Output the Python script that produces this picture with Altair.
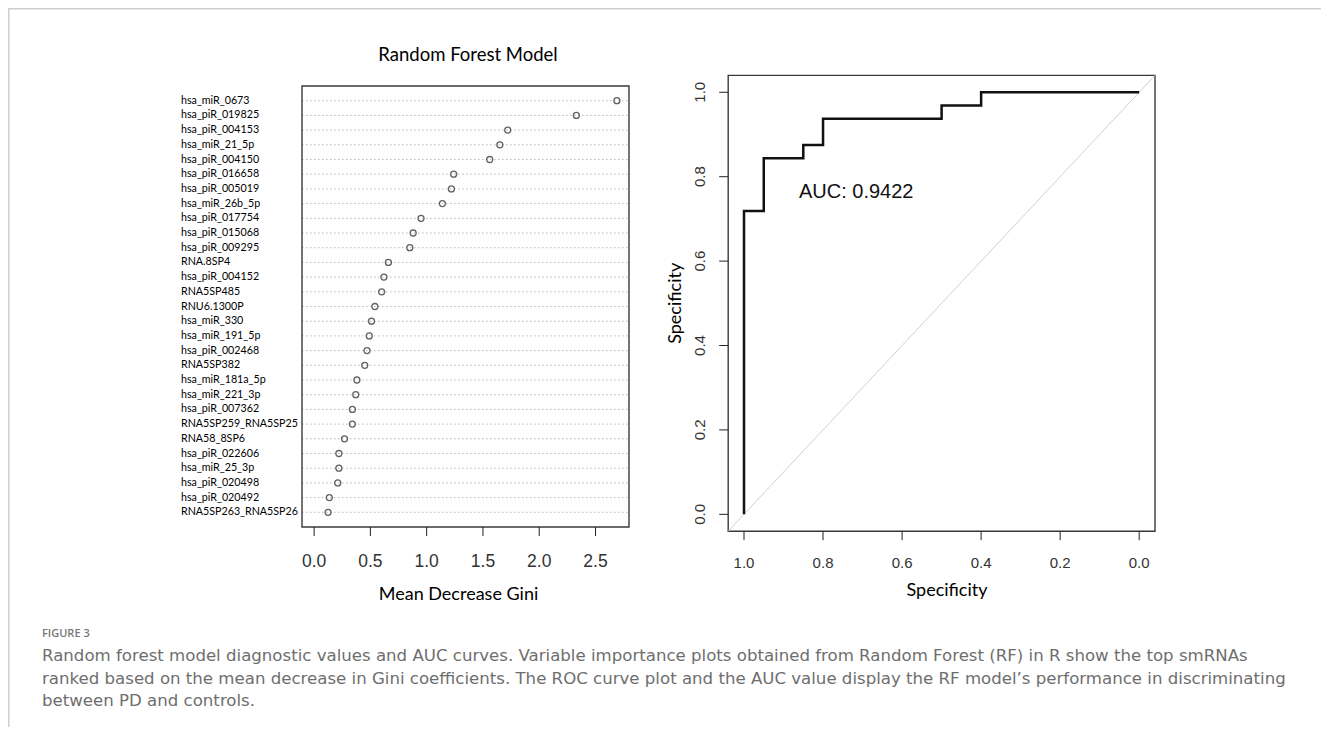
import altair as alt
import pandas as pd

# ---------------- data ----------------
names = [
    "hsa_miR_0673", "hsa_piR_019825", "hsa_piR_004153", "hsa_miR_21_5p",
    "hsa_piR_004150", "hsa_piR_016658", "hsa_piR_005019", "hsa_miR_26b_5p",
    "hsa_piR_017754", "hsa_piR_015068", "hsa_piR_009295", "RNA.8SP4",
    "hsa_piR_004152", "RNA5SP485", "RNU6.1300P", "hsa_miR_330",
    "hsa_miR_191_5p", "hsa_piR_002468", "RNA5SP382", "hsa_miR_181a_5p",
    "hsa_miR_221_3p", "hsa_piR_007362", "RNA5SP259_RNA5SP25", "RNA58_8SP6",
    "hsa_piR_022606", "hsa_miR_25_3p", "hsa_piR_020498", "hsa_piR_020492",
    "RNA5SP263_RNA5SP26",
]
gini = [
    2.69, 2.33, 1.72, 1.65, 1.56, 1.24, 1.22, 1.14, 0.95, 0.88, 0.85, 0.66,
    0.62, 0.60, 0.54, 0.51, 0.49, 0.47, 0.45, 0.38, 0.37, 0.34, 0.34, 0.27,
    0.22, 0.22, 0.21, 0.135, 0.124,
]
gini_ticks = [0.0, 0.5, 1.0, 1.5, 2.0, 2.5]

roc_spec = [1.0, 1.0, 0.95, 0.95, 0.85, 0.85, 0.80, 0.80, 0.50, 0.50, 0.40, 0.40, 0.0]
roc_sens = [0.0, 0.71875, 0.71875, 0.84375, 0.84375, 0.875, 0.875, 0.9375,
            0.9375, 0.96875, 0.96875, 1.0, 1.0]
roc_ticks = [0.0, 0.2, 0.4, 0.6, 0.8, 1.0]
auc_label = "AUC: 0.9422"

title_left = "Random Forest Model"
xlab_left = "Mean Decrease Gini"
xlab_right = "Specificity"
ylab_right = "Specificity"
fig_label = "FIGURE 3"
caption = [
    "Random forest model diagnostic values and AUC curves. Variable importance plots obtained from Random Forest (RF) in R show the top smRNAs",
    "ranked based on the mean decrease in Gini coefficients. The ROC curve plot and the AUC value display the RF model\u2019s performance in discriminating",
    "between PD and controls.",
]

# ---------------- layout ----------------
W, H = 1313, 719
LX_RANGE = [294, 621]
LY_RANGE = [78, 519]
RX_RANGE = [720.2, 1147]
RY_RANGE = [523.2, 67.4]

n = len(names)
gmax = max(gini)
lx_dom = [-0.04 * gmax, 1.04 * gmax]
ly_dom = [0, n + 1]
rx_dom = [1.04, -0.04]
ry_dom = [-0.04, 1.04]
lx_mid = (lx_dom[0] + lx_dom[1]) / 2

TICK_FONT = "Liberation Sans"
TEXT_FONT = "Lato"
CAP_FONT = "DejaVu Sans"

df_imp = pd.DataFrame({"name": names, "gini": gini, "rank": list(range(1, n + 1))})
df_lt = pd.DataFrame({"v": gini_ticks})
df_rt = pd.DataFrame({"v": roc_ticks})
df_roc = pd.DataFrame({"spec": roc_spec, "sens": roc_sens, "i": list(range(len(roc_spec)))})
df_diag = pd.DataFrame({"spec": [rx_dom[0], rx_dom[1]], "sens": [ry_dom[0], ry_dom[1]]})
df_one = pd.DataFrame({"k": [0]})

xs_l = alt.Scale(domain=lx_dom, range=LX_RANGE, nice=False, zero=False)
ys_l = alt.Scale(domain=ly_dom, range=LY_RANGE, nice=False, zero=False)
xs_r = alt.Scale(domain=rx_dom, range=RX_RANGE, nice=False, zero=False)
ys_r = alt.Scale(domain=ry_dom, range=RY_RANGE, nice=False, zero=False)

FRAME = dict(fillOpacity=0, stroke="#3a3a3a", strokeWidth=1.4)

# ---------------- left panel ----------------
base_l = alt.Chart(df_imp)
dots_lines = base_l.mark_rule(color="#b8b8b8", strokeWidth=1, strokeDash=[1.5, 2.5]).encode(
    x=alt.datum(lx_dom[0], scale=xs_l, axis=None),
    x2=alt.datum(lx_dom[1]),
    y=alt.Y("rank:Q", scale=ys_l, axis=None),
)
points = base_l.mark_point(shape="circle", filled=False, color="#222", size=36, strokeWidth=1.3).encode(
    x=alt.X("gini:Q", scale=xs_l, axis=None),
    y=alt.Y("rank:Q", scale=ys_l, axis=None),
)
row_labels = base_l.mark_text(
    align="left", baseline="middle", font=TEXT_FONT, fontSize=10.7, color="black",
    dx=-(LX_RANGE[0] - 173),
).encode(
    x=alt.datum(lx_dom[0], scale=xs_l, axis=None),
    y=alt.Y("rank:Q", scale=ys_l, axis=None),
    text="name:N",
)
frame_l = alt.Chart(df_one).mark_rect(**FRAME).encode(
    x=alt.datum(lx_dom[0], scale=xs_l, axis=None),
    x2=alt.datum(lx_dom[1]),
    y=alt.datum(ly_dom[0], scale=ys_l, axis=None),
    y2=alt.datum(ly_dom[1]),
)
ticks_l = alt.Chart(df_lt).mark_rule(color="#222", strokeWidth=1, y2Offset=9).encode(
    x=alt.X("v:Q", scale=xs_l, axis=None),
    y=alt.datum(ly_dom[1], scale=ys_l, axis=None),
    y2=alt.datum(ly_dom[1]),
)
ticklab_l = alt.Chart(df_lt).mark_text(
    align="center", baseline="alphabetic", font=TICK_FONT, fontSize=17.5, color="#333", dy=39.7
).encode(
    x=alt.X("v:Q", scale=xs_l, axis=None),
    y=alt.datum(ly_dom[1], scale=ys_l, axis=None),
    text=alt.Text("v:Q", format=".1f"),
)
xtitle_l = alt.Chart(df_one).mark_text(
    text=xlab_left, align="center", baseline="alphabetic", font=TEXT_FONT, fontSize=18,
    color="black", xOffset=-7, yOffset=73,
).encode(
    x=alt.datum(lx_mid, scale=xs_l, axis=None),
    y=alt.datum(ly_dom[1], scale=ys_l, axis=None),
)
title_l = alt.Chart(df_one).mark_text(
    text=title_left, align="center", baseline="alphabetic", font=TEXT_FONT, fontSize=18.5,
    color="black", xOffset=2.5, yOffset=-25.3,
).encode(
    x=alt.datum(lx_mid, scale=xs_l, axis=None),
    y=alt.datum(ly_dom[0], scale=ys_l, axis=None),
)
left = alt.layer(dots_lines, points, row_labels, frame_l, ticks_l, ticklab_l, xtitle_l, title_l)

# ---------------- right panel ----------------
frame_r = alt.Chart(df_one).mark_rect(**FRAME).encode(
    x=alt.datum(rx_dom[0], scale=xs_r, axis=None),
    x2=alt.datum(rx_dom[1]),
    y=alt.datum(ry_dom[0], scale=ys_r, axis=None),
    y2=alt.datum(ry_dom[1]),
)
diag = alt.Chart(df_diag).mark_line(color="#d0d0d0", strokeWidth=1).encode(
    x=alt.X("spec:Q", scale=xs_r, axis=None),
    y=alt.Y("sens:Q", scale=ys_r, axis=None),
)
roc = alt.Chart(df_roc).mark_line(color="#111", strokeWidth=2.5, strokeJoin="miter").encode(
    x=alt.X("spec:Q", scale=xs_r, axis=None),
    y=alt.Y("sens:Q", scale=ys_r, axis=None),
    order="i:Q",
)
auc = alt.Chart(df_one).mark_text(
    text=auc_label, align="left", baseline="middle", font=TICK_FONT, fontSize=20, color="#111"
).encode(
    x=alt.datum(0.861, scale=xs_r, axis=None),
    y=alt.datum(0.764, scale=ys_r, axis=None),
)
xticks_r = alt.Chart(df_rt).mark_rule(color="#222", strokeWidth=1, y2Offset=9).encode(
    x=alt.X("v:Q", scale=xs_r, axis=None),
    y=alt.datum(ry_dom[0], scale=ys_r, axis=None),
    y2=alt.datum(ry_dom[0]),
)
xticklab_r = alt.Chart(df_rt).mark_text(
    align="center", baseline="alphabetic", font=TICK_FONT, fontSize=15, color="#333", dy=37.1
).encode(
    x=alt.X("v:Q", scale=xs_r, axis=None),
    y=alt.datum(ry_dom[0], scale=ys_r, axis=None),
    text=alt.Text("v:Q", format=".1f"),
)
yticks_r = alt.Chart(df_rt).mark_rule(color="#222", strokeWidth=1, x2Offset=-9).encode(
    y=alt.Y("v:Q", scale=ys_r, axis=None),
    x=alt.datum(rx_dom[0], scale=xs_r, axis=None),
    x2=alt.datum(rx_dom[0]),
)
yticklab_r = alt.Chart(df_rt).mark_text(
    align="center", baseline="alphabetic", font=TICK_FONT, fontSize=15, color="#333",
    angle=270, xOffset=-22.8,
).encode(
    y=alt.Y("v:Q", scale=ys_r, axis=None),
    x=alt.datum(rx_dom[0], scale=xs_r, axis=None),
    text=alt.Text("v:Q", format=".1f"),
)
xtitle_r = alt.Chart(df_one).mark_text(
    text=xlab_right, align="center", baseline="alphabetic", font=TEXT_FONT, fontSize=18,
    color="black", xOffset=5.4, yOffset=64.8,
).encode(
    x=alt.datum(0.5, scale=xs_r, axis=None),
    y=alt.datum(ry_dom[0], scale=ys_r, axis=None),
)
ytitle_r = alt.Chart(df_one).mark_text(
    text=ylab_right, align="center", baseline="middle", font=TEXT_FONT, fontSize=18,
    color="black", angle=270, xOffset=-52.7,
).encode(
    x=alt.datum(rx_dom[0], scale=xs_r, axis=None),
    y=alt.datum(0.5, scale=ys_r, axis=None),
)
right = alt.layer(frame_r, diag, roc, auc, xticks_r, xticklab_r, yticks_r, yticklab_r, xtitle_r, ytitle_r)

# ---------------- caption & page frame ----------------
figlab = alt.Chart(df_one).mark_text(
    text=fig_label, align="left", baseline="alphabetic", font="Open Sans", fontSize=11,
    fontWeight=600, color="#777"
).encode(x=alt.value(34), y=alt.value(629))
cap = alt.Chart(df_one).mark_text(
    text=caption, align="left", baseline="alphabetic", font=CAP_FONT, fontSize=16.6,
    lineHeight=22.5, color="#6e6e6e"
).encode(x=alt.value(34), y=alt.value(653))
border_top = alt.Chart(df_one).mark_rule(color="#cfcfcf", strokeWidth=1.5).encode(
    x=alt.value(0), x2=alt.value(W), y=alt.value(0.75)
)
border_left = alt.Chart(df_one).mark_rule(color="#cfcfcf", strokeWidth=1.5).encode(
    x=alt.value(0.75), y=alt.value(0), y2=alt.value(H)
)

chart = alt.layer(left, right, figlab, cap, border_top, border_left).resolve_scale(
    x="independent", y="independent"
).properties(
    width=W, height=H, padding=0, autosize=alt.AutoSizeParams(type="none"),
    background="white",
).configure_view(stroke=None)

chart.save("out.html", embed_options={"renderer": "svg", "actions": False})
